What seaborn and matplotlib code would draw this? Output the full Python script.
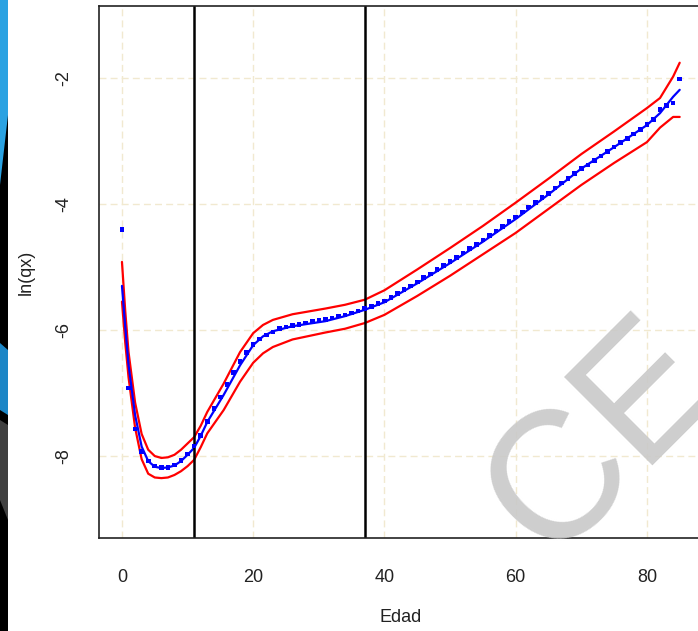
import matplotlib
matplotlib.use('Agg')
import matplotlib.pyplot as plt
from matplotlib.patches import Polygon, Rectangle
import seaborn as sns
import pandas as pd

# tasas observadas (ln qx) por edad simple
edad_obs = list(range(86))
lnqx_obs = [-4.41, -6.92, -7.57, -7.93, -8.08, -8.16, -8.18, -8.18, -8.14, -8.07,
            -7.97, -7.84, -7.67, -7.45, -7.25, -7.06, -6.86, -6.67, -6.50, -6.36,
            -6.23, -6.14, -6.08, -6.03, -5.98, -5.95, -5.93, -5.91, -5.89, -5.87,
            -5.85, -5.83, -5.81, -5.78, -5.76, -5.73, -5.70, -5.66, -5.63, -5.58,
            -5.54, -5.48, -5.42, -5.36, -5.30, -5.24, -5.17, -5.11, -5.04, -4.98,
            -4.91, -4.85, -4.78, -4.71, -4.64, -4.57, -4.50, -4.43, -4.36, -4.28,
            -4.21, -4.13, -4.05, -3.98, -3.90, -3.83, -3.75, -3.67, -3.60, -3.52,
            -3.44, -3.38, -3.31, -3.24, -3.17, -3.10, -3.03, -2.96, -2.89, -2.82,
            -2.74, -2.66, -2.50, -2.44, -2.40, -2.02]

# curva ajustada e intervalo
edad_aj = [0, 0.5, 1, 2, 3, 4, 5, 6, 7, 8, 9, 10, 11, 12, 13, 15.5, 18, 20, 21.5,
           23, 26, 31, 34, 37, 40, 45, 50, 55, 60, 65, 70, 75, 80, 82, 84, 85]
lnqx_aj = [-5.30, -5.95, -6.55, -7.35, -7.85, -8.08, -8.17, -8.19, -8.18, -8.15,
           -8.08, -7.98, -7.87, -7.68, -7.46, -7.03, -6.56, -6.24, -6.10,
           -6.02, -5.94, -5.86, -5.78, -5.68, -5.56, -5.26, -4.94, -4.60, -4.24,
           -3.85, -3.44, -3.10, -2.75, -2.56, -2.30, -2.19]
lnqx_sup = [-4.92, -5.70, -6.35, -7.15, -7.65, -7.90, -8.00, -8.03, -8.02, -7.98,
            -7.90, -7.80, -7.70, -7.52, -7.30, -6.85, -6.35, -6.05, -5.92,
            -5.84, -5.75, -5.66, -5.60, -5.52, -5.37, -5.04, -4.70, -4.35, -3.98,
            -3.60, -3.21, -2.85, -2.48, -2.32, -1.98, -1.76]
lnqx_inf = [-5.55, -6.20, -6.75, -7.55, -8.05, -8.28, -8.34, -8.35, -8.34, -8.30,
            -8.24, -8.16, -8.06, -7.86, -7.64, -7.27, -6.82, -6.52, -6.37,
            -6.27, -6.15, -6.04, -5.98, -5.89, -5.76, -5.46, -5.14, -4.80, -4.46,
            -4.08, -3.70, -3.35, -3.02, -2.79, -2.62, -2.62]

cortes = [11, 37]

sns.set_style('white')
plt.rcParams['font.family'] = ['Liberation Sans', 'DejaVu Sans']
plt.rcParams['axes.unicode_minus'] = False

W, H = 698, 631
fig = plt.figure(figsize=(W / 100, H / 100), dpi=100)
ax = fig.add_axes([99 / W, 1 - 538 / H, (702 - 99) / W, (538 - 6) / H])

obs = pd.DataFrame({'Edad': edad_obs, 'lnqx': lnqx_obs})
aj = pd.DataFrame({'Edad': edad_aj, 'aj': lnqx_aj, 'sup': lnqx_sup, 'inf': lnqx_inf})

ax.grid(True, color='#F1E9D0', linestyle=(0, (5, 3)), linewidth=1)
ax.set_axisbelow(True)

sns.lineplot(data=aj, x='Edad', y='sup', color='red', linewidth=1.6, ax=ax)
sns.lineplot(data=aj, x='Edad', y='inf', color='red', linewidth=1.6, ax=ax)
sns.lineplot(data=aj, x='Edad', y='aj', color='blue', linewidth=1.6, ax=ax)
sns.scatterplot(data=obs, x='Edad', y='lnqx', color='blue', marker='s', s=11,
                edgecolor='none', ax=ax, zorder=4)

for c in cortes:
    ax.axvline(c, color='black', linewidth=1.8)

ax.set_xlim(-3.5, 88.4)
ax.set_ylim(-9.3, -0.86)
ax.set_xticks([0, 20, 40, 60, 80])
ax.set_yticks([-8, -6, -4, -2])
ax.tick_params(axis='both', direction='out', length=10, width=1, color='#333333',
               labelsize=13, labelcolor='#222222', pad=12)
ax.tick_params(axis='y', labelrotation=90, pad=9)
for t in ax.get_yticklabels():
    t.set_va('center')
for s in ax.spines.values():
    s.set_color('#222222')
    s.set_linewidth(1.2)

ax.set_xlabel('Edad', fontsize=13, color='#222222', labelpad=17)
ax.set_ylabel('ln(qx)', fontsize=13, color='#222222', labelpad=15)

# marca de agua
fig.text(548 / W, 1 - 561 / H, 'CE', rotation=45, rotation_mode='anchor',
         ha='left', va='baseline', fontsize=130, color='#C9C9C9', alpha=0.9, zorder=5)

# borde de la diapositiva
fig.add_artist(Rectangle((0, 0), 8 / W, 1, transform=fig.transFigure,
                         facecolor='black', linewidth=0, zorder=6))
fig.add_artist(Polygon([(0, 1), (8 / W, 1), (8 / W, 1 - 115 / H), (0, 1 - 185 / H)],
                       closed=True, transform=fig.transFigure, facecolor='#2AA2E2',
                       linewidth=0, zorder=7))
fig.add_artist(Polygon([(0, 1 - 343 / H), (8 / W, 1 - 350 / H), (8 / W, 1 - 415 / H),
                        (0, 1 - 410 / H)],
                       closed=True, transform=fig.transFigure, facecolor='#1C86C6',
                       linewidth=0, zorder=7))
fig.add_artist(Polygon([(0, 1 - 420 / H), (8 / W, 1 - 425 / H), (8 / W, 1 - 520 / H),
                        (0, 1 - 500 / H)],
                       closed=True, transform=fig.transFigure, facecolor='#404040',
                       linewidth=0, zorder=7))

fig.savefig('out.png', dpi=100)
